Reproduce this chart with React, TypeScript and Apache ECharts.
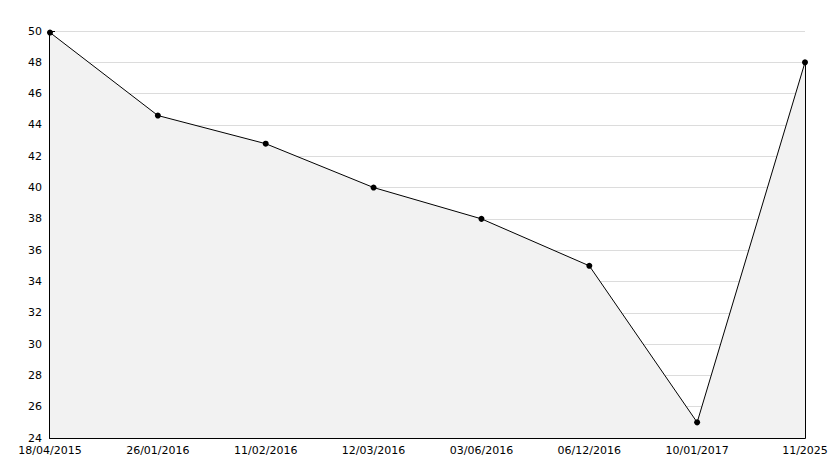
import React, { useEffect, useRef } from "react";
import * as echarts from "echarts";

const categories = [
  "18/04/2015",
  "26/01/2016",
  "11/02/2016",
  "12/03/2016",
  "03/06/2016",
  "06/12/2016",
  "10/01/2017",
  "11/2025",
];
const values = [49.9, 44.6, 42.8, 40.0, 38.0, 35.0, 25.0, 48.0];
const yMin = 24;
const yMax = 50;
const yInterval = 2;

export default function App() {
  const ref = useRef<HTMLDivElement>(null);
  useEffect(() => {
    if (!ref.current) return;
    const chart = echarts.init(ref.current, null, { renderer: "svg" });
    const font = "DejaVu Sans";
    const lastIdx = categories.length - 1;
    chart.setOption({
      animation: false,
      backgroundColor: "#ffffff",
      grid: { left: 50, right: 29, top: 31, bottom: 30, containLabel: false },
      xAxis: {
        type: "category",
        data: categories,
        boundaryGap: false,
        axisLine: { show: true, lineStyle: { color: "#000", width: 2 } },
        axisTick: { show: true, inside: true, length: 5, lineStyle: { color: "#000" } },
        axisLabel: { color: "#000", fontFamily: font, fontSize: 11, margin: 7, interval: 0 },
        splitLine: { show: false },
      },
      yAxis: {
        type: "value",
        min: yMin,
        max: yMax,
        interval: yInterval,
        axisLine: { show: true, lineStyle: { color: "#000", width: 2 } },
        axisTick: { show: true, inside: true, length: 5, lineStyle: { color: "#000" } },
        minorTick: { show: true, splitNumber: 2, length: 4, lineStyle: { color: "#000" } },
        axisLabel: { color: "#000", fontFamily: font, fontSize: 11, margin: 8 },
        splitLine: { show: true, lineStyle: { color: "#dcdcdc", width: 1 } },
      },
      series: [
        {
          type: "line",
          data: values,
          symbol: "circle",
          symbolSize: 6,
          itemStyle: { color: "#000" },
          lineStyle: { color: "#000", width: 1 },
          areaStyle: { color: "#f2f2f2", opacity: 1, origin: "start" },
          z: 3,
          markLine: {
            silent: true,
            symbol: "none",
            label: { show: false },
            lineStyle: { color: "#000", width: 1, type: "solid" },
            data: [
              [
                { coord: [lastIdx, values[lastIdx]] },
                { coord: [lastIdx, yMin] },
              ],
            ],
          },
        },
      ],
    });
    return () => chart.dispose();
  }, []);
  return (
    <div
      ref={ref}
      style={{ position: "fixed", left: 0, top: 0, width: 834, height: 468 }}
    />
  );
}
